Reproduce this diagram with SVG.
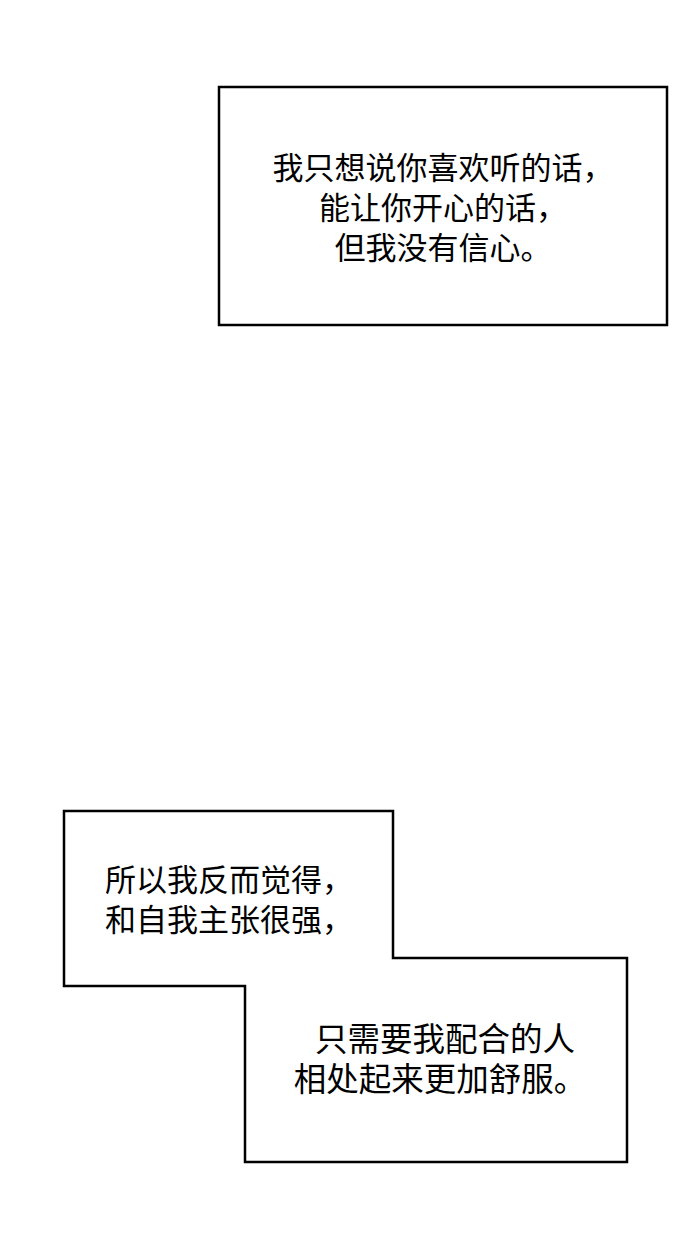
<svg xmlns="http://www.w3.org/2000/svg" width="690" height="1252" viewBox="0 0 690 1252">
<style>
.b{fill:#fff;stroke:#000;stroke-width:2.5}
.t{font-family:"Noto Sans CJK SC",sans-serif;font-size:31px;fill:#000}
.m{text-anchor:middle}
.l{font-size:32.5px}
</style>
<rect width="690" height="1252" fill="#fff"/>
<g id="box1">
<rect class="b" x="219" y="87" width="448" height="238"/>
<text class="t m" x="443" y="179">我只想说你喜欢听的话，</text>
<text class="t m" x="443" y="219">能让你开心的话，</text>
<text class="t m" x="443" y="259">但我没有信心。</text>
</g>
<g id="box2">
<polygon class="b" points="64,811 393,811 393,958 627,958 627,1162 245,1162 245,986 64,986"/>
<text class="t" x="105" y="891">所以我反而觉得，</text>
<text class="t" x="105" y="931">和自我主张很强，</text>
<text class="t m l" x="445" y="1051">只需要我配合的人</text>
<text class="t m l" x="440" y="1091">相处起来更加舒服。</text>
</g>
<g id="connectors"/>
</svg>
